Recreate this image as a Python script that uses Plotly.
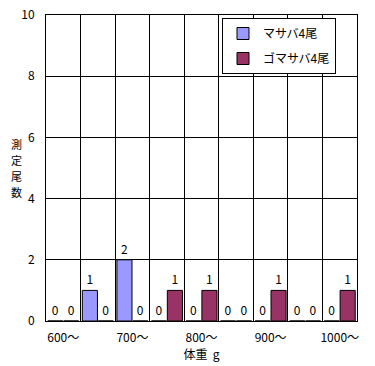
import plotly.graph_objects as go

categories = ["600", "650", "700", "750", "800", "850", "900", "950", "1000"]
tick_labels = ["600～", "", "700～", "", "800～", "", "900～", "", "1000～"]
masaba = [0, 1, 2, 0, 0, 0, 0, 0, 0]
gomasaba = [0, 0, 0, 1, 1, 0, 1, 0, 1]
series_names = ["マサバ4尾", "ゴマサバ4尾"]
colors = ["#9999FF", "#993366"]
ytitle_chars = ["測", "定", "尾", "数"]

FONT = "Noto Sans CJK JP"
L, R, T, B = 46, 18, 15, 45
W, H = 375, 366
pw, ph = W - L - R, H - T - B

fig = go.Figure()
for name, vals, col, grp in zip(series_names, [masaba, gomasaba], colors, ["a", "b"]):
    fig.add_trace(go.Bar(
        x=categories, y=vals, name=name, legendgroup=grp,
        marker=dict(color=col, line=dict(color="black", width=1)),
        text=[str(v) for v in vals], textposition="outside",
        textfont=dict(family=FONT, size=12, color="black"),
        cliponaxis=False,
    ))

annotations = []
for i, ch in enumerate(ytitle_chars):
    py = 144 + i * 16
    annotations.append(dict(
        text=ch, x=(16 - L) / pw, y=(H - B - py) / ph,
        xref="paper", yref="paper", xanchor="center", yanchor="middle",
        showarrow=False, font=dict(family=FONT, size=11, color="black"),
        borderpad=0,
    ))

fig.update_layout(
    template="none",
    width=W, height=H,
    margin=dict(l=L, r=R, t=T, b=B, pad=0, autoexpand=False),
    paper_bgcolor="white", plot_bgcolor="white",
    font=dict(family=FONT, size=12, color="black"),
    barmode="group", bargap=0.08, bargroupgap=0.05,
    showlegend=True,
    legend=dict(
        x=(222 - L) / pw, y=(H - B - 18) / ph, xanchor="left", yanchor="top",
        bordercolor="black", borderwidth=1, bgcolor="white",
        traceorder="grouped", tracegroupgap=6,
        font=dict(family=FONT, size=12, color="black"),
        entrywidth=90,
    ),
    xaxis=dict(
        type="category", categoryorder="array", categoryarray=categories,
        tickmode="array", tickvals=categories, ticktext=tick_labels,
        tickson="boundaries", ticks="", tickangle=0, automargin=False,
        showgrid=True, gridcolor="black", gridwidth=1,
        showline=True, linecolor="black", linewidth=1, mirror=True,
        title=dict(text="体重  g", font=dict(family=FONT, size=12, color="black"), standoff=0),
        tickfont=dict(family=FONT, size=12, color="black"), ticklabelstandoff=6,
    ),
    yaxis=dict(
        range=[0, 10], dtick=2, tick0=0, automargin=False,
        showgrid=True, gridcolor="black", gridwidth=1,
        showline=True, linecolor="black", linewidth=1, mirror=True,
        ticks="", zeroline=False,
        tickfont=dict(family=FONT, size=12, color="black"), ticklabelstandoff=8,
    ),
    annotations=annotations,
)

fig.write_html("out.html", config={"displayModeBar": False},
               post_script="document.body.style.margin='0';")
